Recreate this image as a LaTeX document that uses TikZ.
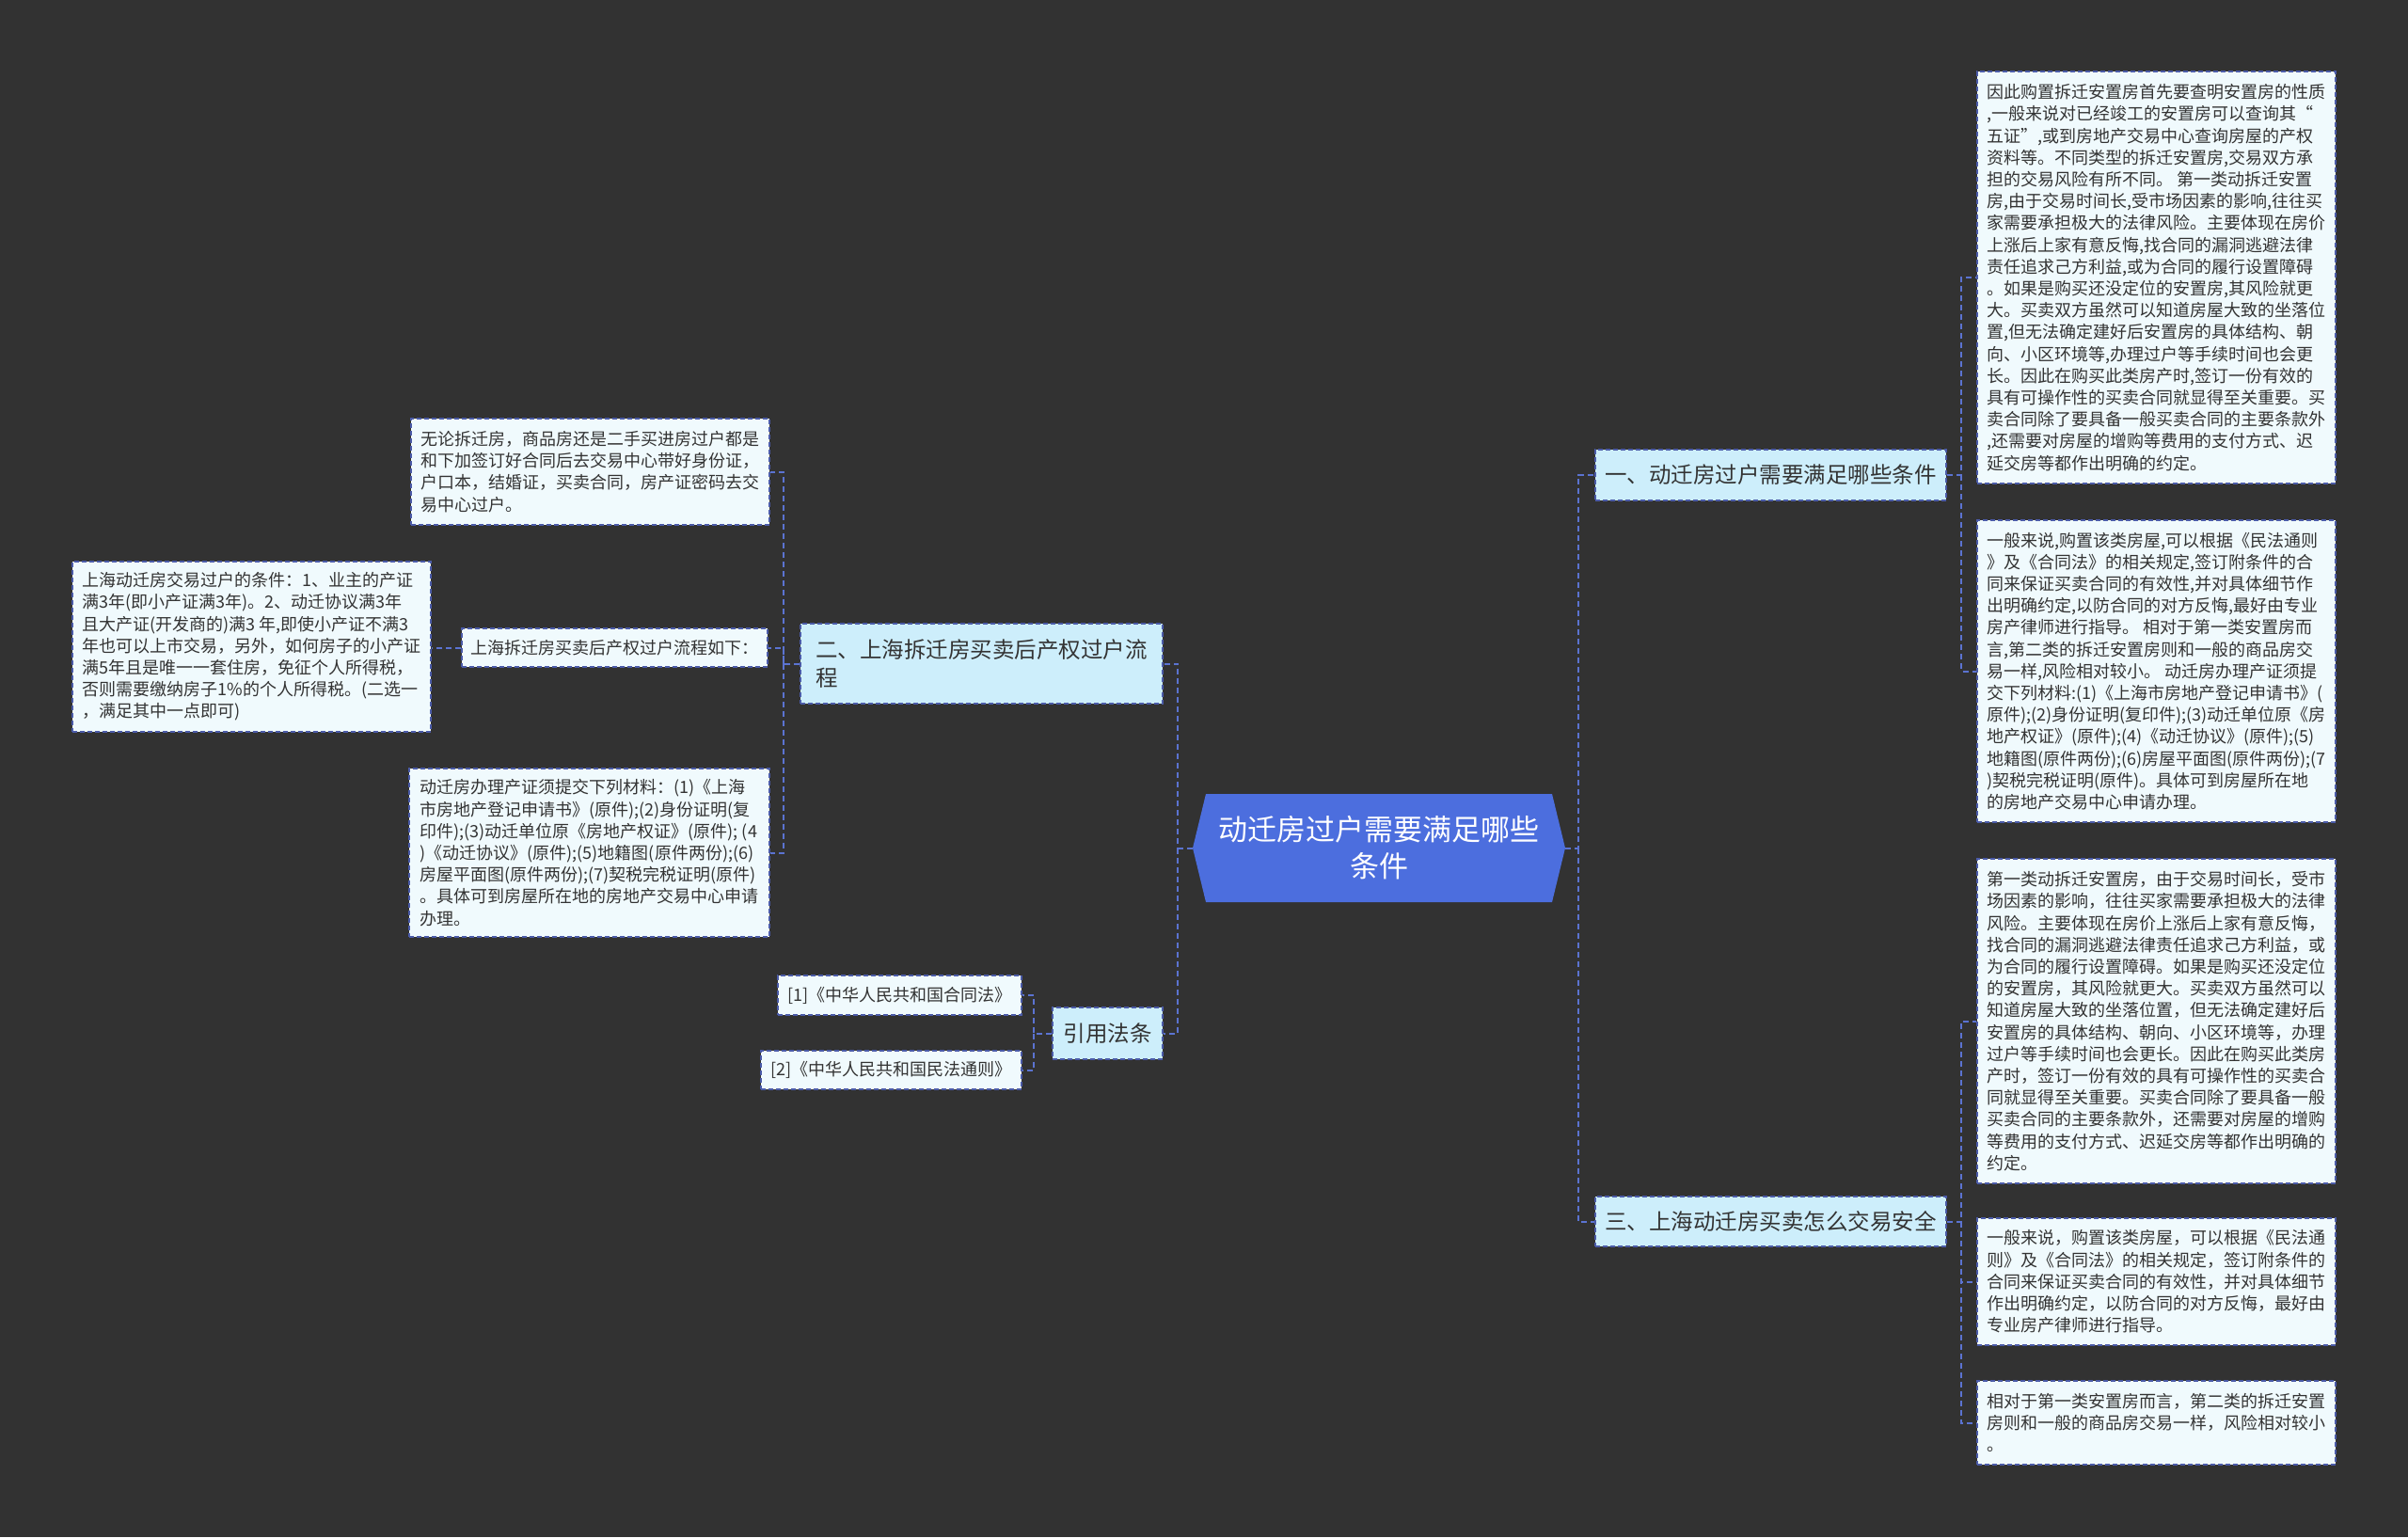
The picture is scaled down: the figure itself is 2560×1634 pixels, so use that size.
\documentclass[tikz,border=0pt]{standalone}
\usepackage{fontspec}
\setmainfont{Noto Sans CJK SC}
\definecolor{bgc}{HTML}{323232}
\definecolor{rootc}{HTML}{4C6EDE}
\definecolor{brc}{HTML}{CDEEFB}
\definecolor{leafc}{HTML}{F0FAFD}
\definecolor{bordc}{HTML}{4B5BA8}
\definecolor{connc}{HTML}{5B73D1}
\definecolor{txtc}{HTML}{333333}
\tikzset{
  boxbase/.style={draw=bordc, line width=1.5pt, dash pattern=on 5pt off 3pt, text=txtc, align=left, inner sep=0pt},
  leaf/.style={boxbase, fill=leafc, font=\fontsize{18}{23.2}\selectfont},
  branch/.style={boxbase, fill=brc, font=\fontsize{23.5}{30}\selectfont},
  conn/.style={draw=connc, line width=2pt, dash pattern=on 6pt off 4pt},
}
\begin{document}
\begin{tikzpicture}[x=1pt,y=-1pt]
\fill[bgc] (0,0) rectangle (2560,1634);
\useasboundingbox (0,0) rectangle (2560,1634);

% root
\node[minimum width=396, minimum height=115, inner sep=0pt, text=white, align=center,
  font=\fontsize{31}{39}\selectfont,
  path picture={\fill[rootc] ([xshift=14pt]path picture bounding box.north west) -- ([xshift=-14pt]path picture bounding box.north east) -- (path picture bounding box.east) -- ([xshift=-14pt]path picture bounding box.south east) -- ([xshift=14pt]path picture bounding box.south west) -- (path picture bounding box.west) -- cycle;}]
  (root) at (1466,901.5) {动迁房过户需要满足哪些\\条件};

% branches
\node[branch, minimum width=373, minimum height=54] (b1) at (1882.5,505) {一、动迁房过户需要满足哪些条件};
\node[branch, minimum width=373, minimum height=53] (b3) at (1882.5,1298.5) {三、上海动迁房买卖怎么交易安全};
\node[branch, minimum width=385, minimum height=85] (b2) at (1043.5,705.5) {二、上海拆迁房买卖后产权过户流\\程};
\node[branch, minimum width=117, minimum height=55, align=center] (bref) at (1177.5,1098.5) {引用法条};

% references
\node[leaf, minimum width=259, minimum height=42] (ref1) at (956.5,1058) {[1]《中华人民共和国合同法》};
\node[leaf, minimum width=277, minimum height=41] (ref2) at (947.5,1137.5) {[2]《中华人民共和国民法通则》};

% left leaves
\node[leaf, minimum width=381, minimum height=113] (l1) at (627.5,501.5) {无论拆迁房，商品房还是二手买进房过户都是\\和下加签订好合同后去交易中心带好身份证，\\户口本，结婚证，买卖合同，房产证密码去交\\易中心过户。};
\node[leaf, minimum width=325, minimum height=41] (l2) at (653.5,688.5) {上海拆迁房买卖后产权过户流程如下：};
\node[leaf, minimum width=381, minimum height=181] (l3) at (267.5,687.5) {上海动迁房交易过户的条件：1、业主的产证\\满3年(即小产证满3年)。2、动迁协议满3年\\且大产证(开发商的)满3 年,即使小产证不满3\\年也可以上市交易，另外，如何房子的小产证\\满5年且是唯一一套住房，免征个人所得税，\\否则需要缴纳房子1\%的个人所得税。(二选一\\，满足其中一点即可)};
\node[leaf, minimum width=383, minimum height=179] (l4) at (626.5,906.5) {动迁房办理产证须提交下列材料：(1)《上海\\市房地产登记申请书》(原件);(2)身份证明(复\\印件);(3)动迁单位原《房地产权证》(原件); (4\\)《动迁协议》(原件);(5)地籍图(原件两份);(6)\\房屋平面图(原件两份);(7)契税完税证明(原件)\\。具体可到房屋所在地的房地产交易中心申请\\办理。};

% right leaves
\node[leaf, minimum width=381, minimum height=438] (r1) at (2292.5,295) {因此购置拆迁安置房首先要查明安置房的性质\\,一般来说对已经竣工的安置房可以查询其“\\五证”,或到房地产交易中心查询房屋的产权\\资料等。不同类型的拆迁安置房,交易双方承\\担的交易风险有所不同。 第一类动拆迁安置\\房,由于交易时间长,受市场因素的影响,往往买\\家需要承担极大的法律风险。主要体现在房价\\上涨后上家有意反悔,找合同的漏洞逃避法律\\责任追求己方利益,或为合同的履行设置障碍\\。如果是购买还没定位的安置房,其风险就更\\大。买卖双方虽然可以知道房屋大致的坐落位\\置,但无法确定建好后安置房的具体结构、朝\\向、小区环境等,办理过户等手续时间也会更\\长。因此在购买此类房产时,签订一份有效的\\具有可操作性的买卖合同就显得至关重要。买\\卖合同除了要具备一般买卖合同的主要条款外\\,还需要对房屋的增购等费用的支付方式、迟\\延交房等都作出明确的约定。};
\node[leaf, minimum width=381, minimum height=321] (r2) at (2292.5,713.5) {一般来说,购置该类房屋,可以根据《民法通则\\》及《合同法》的相关规定,签订附条件的合\\同来保证买卖合同的有效性,并对具体细节作\\出明确约定,以防合同的对方反悔,最好由专业\\房产律师进行指导。 相对于第一类安置房而\\言,第二类的拆迁安置房则和一般的商品房交\\易一样,风险相对较小。 动迁房办理产证须提\\交下列材料:(1)《上海市房地产登记申请书》(\\原件);(2)身份证明(复印件);(3)动迁单位原《房\\地产权证》(原件);(4)《动迁协议》(原件);(5)\\地籍图(原件两份);(6)房屋平面图(原件两份);(7\\)契税完税证明(原件)。具体可到房屋所在地\\的房地产交易中心申请办理。};
\node[leaf, minimum width=381, minimum height=345] (r3) at (2292.5,1085.5) {第一类动拆迁安置房，由于交易时间长，受市\\场因素的影响，往往买家需要承担极大的法律\\风险。主要体现在房价上涨后上家有意反悔，\\找合同的漏洞逃避法律责任追求己方利益，或\\为合同的履行设置障碍。如果是购买还没定位\\的安置房，其风险就更大。买卖双方虽然可以\\知道房屋大致的坐落位置，但无法确定建好后\\安置房的具体结构、朝向、小区环境等，办理\\过户等手续时间也会更长。因此在购买此类房\\产时，签订一份有效的具有可操作性的买卖合\\同就显得至关重要。买卖合同除了要具备一般\\买卖合同的主要条款外，还需要对房屋的增购\\等费用的支付方式、迟延交房等都作出明确的\\约定。};
\node[leaf, minimum width=381, minimum height=135] (r4) at (2292.5,1362.5) {一般来说，购置该类房屋，可以根据《民法通\\则》及《合同法》的相关规定，签订附条件的\\合同来保证买卖合同的有效性，并对具体细节\\作出明确约定，以防合同的对方反悔，最好由\\专业房产律师进行指导。};
\node[leaf, minimum width=381, minimum height=89] (r5) at (2292.5,1512.5) {相对于第一类安置房而言，第二类的拆迁安置\\房则和一般的商品房交易一样，风险相对较小\\。};

% junctions
\coordinate (jr) at (1678,901.5);
\coordinate (j1) at (2085,505);
\coordinate (j3) at (2085,1298.5);
\coordinate (jl) at (1252,901.5);
\coordinate (j2) at (833,705.5);
\coordinate (jb) at (1099,1098.5);

% connectors
\draw[conn] (root.east) -- (jr) |- (b1.west);
\draw[conn] (jr) |- (b3.west);
\draw[conn] (b1.east) -- (j1) |- (r1.west);
\draw[conn] (j1) |- (r2.west);
\draw[conn] (b3.east) -- (j3) |- (r3.west);
\draw[conn] (j3) |- (r4.west);
\draw[conn] (j3) |- (r5.west);
\draw[conn] (root.west) -- (jl) |- (b2.east);
\draw[conn] (jl) |- (bref.east);
\draw[conn] (b2.west) -- (j2) |- (l1.east);
\draw[conn] (j2) |- (l2.east);
\draw[conn] (j2) |- (l4.east);
\draw[conn] (l2.west) -- (l3.east |- l2.west);
\draw[conn] (bref.west) -- (jb) |- (ref1.east);
\draw[conn] (jb) |- (ref2.east);
\end{tikzpicture}
\end{document}
